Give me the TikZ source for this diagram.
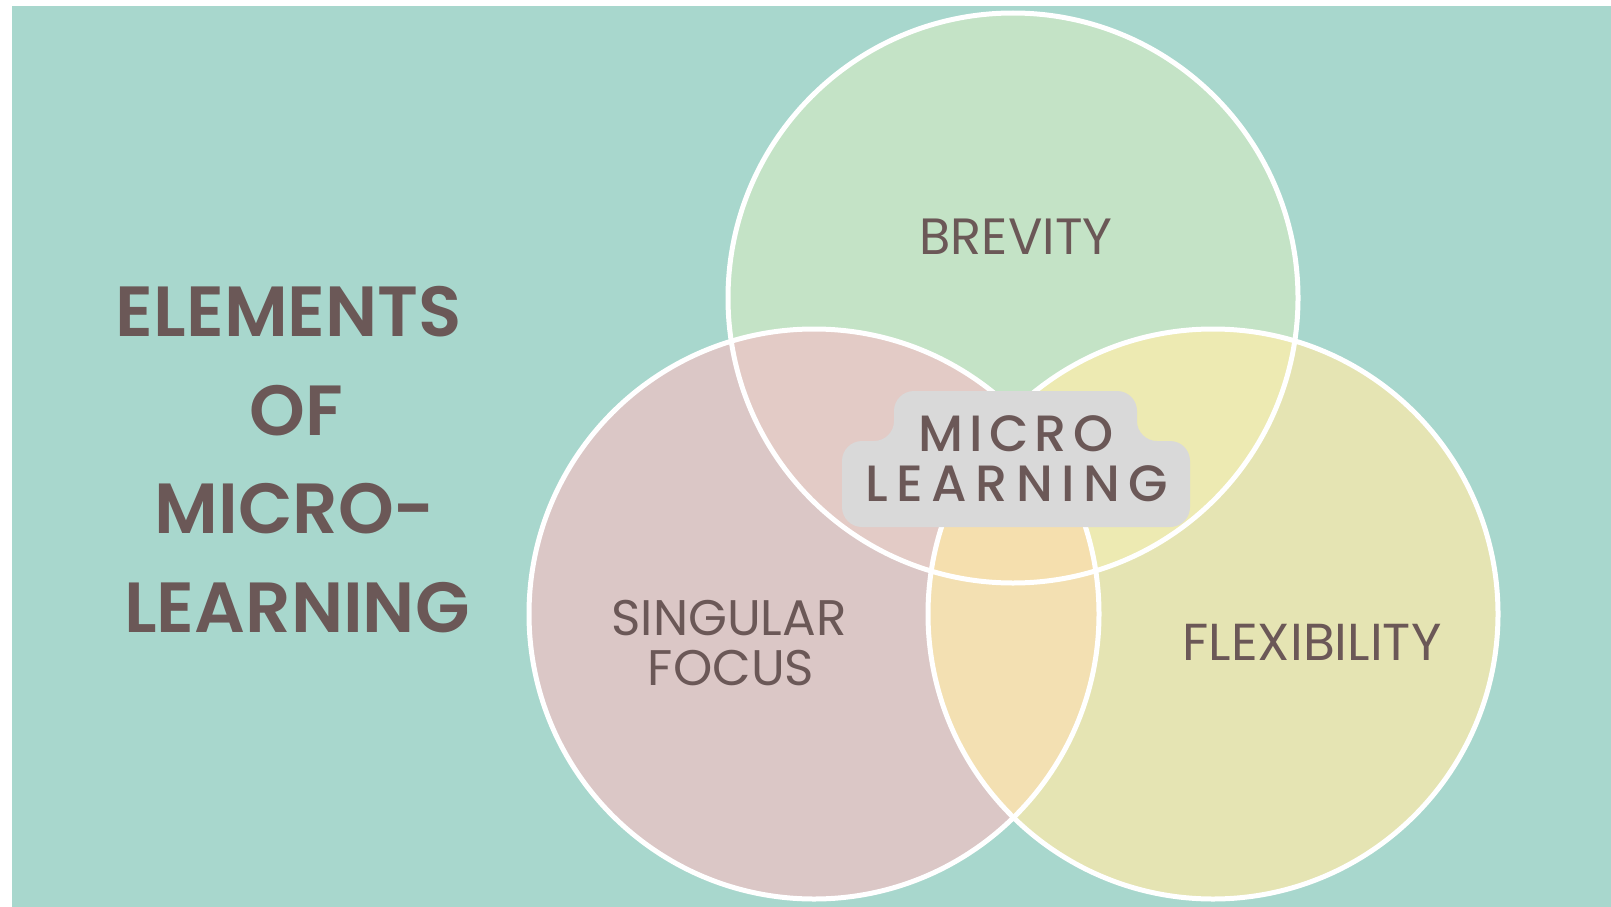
\documentclass[tikz,border=0pt]{standalone}
\usepackage{fontspec}
\setmainfont{Poppins}
\newfontfamily\popsemi{Poppins SemiBold}
\newfontfamily\popmed{Poppins Medium}[LetterSpace=12]
\newfontfamily\popmedwide{Poppins Medium}[LetterSpace=16.5]
\definecolor{bgteal}{HTML}{A8D7CD}
\definecolor{ctop}{HTML}{C4E3C6}
\definecolor{cleft}{HTML}{DBC7C6}
\definecolor{cright}{HTML}{E5E4B3}
\definecolor{ctl}{HTML}{E3CBC6}
\definecolor{ctr}{HTML}{EDEAB2}
\definecolor{clr}{HTML}{F3E0B2}
\definecolor{cmid}{HTML}{F5DFAE}
\definecolor{boxgray}{HTML}{D9D9D9}
\definecolor{txt}{HTML}{6B5857}
\tikzset{
  ring/.style={draw=white,line width=5pt},
  titletext/.style={inner sep=0pt,anchor=base,text=txt,font=\popsemi\fontsize{71}{98}\selectfont},
  circtext/.style={inner sep=0pt,anchor=base,text=txt,font=\fontsize{50}{50}\selectfont},
  midtext/.style={inner sep=0pt,anchor=base,text=txt,font=\popmed\fontsize{51}{50}\selectfont},
  midbox/.style={fill=boxgray,rounded corners=20pt}
}
\begin{document}
\begin{tikzpicture}[x=1pt,y=-1pt]
\useasboundingbox (0,0) rectangle (1611,907);
\fill[white] (0,0) rectangle (1611,907);
\fill[bgteal] (12,6) rectangle (1611,907);
% circle centres
\coordinate (T) at (1013,298);
\coordinate (L) at (814,614);
\coordinate (R) at (1213,614);
% fills
\fill[ctop] (T) circle[radius=285];
\fill[cleft] (L) circle[radius=285];
\fill[cright] (R) circle[radius=285];
\begin{scope}\clip (T) circle[radius=285]; \fill[ctl] (L) circle[radius=285];\end{scope}
\begin{scope}\clip (T) circle[radius=285]; \fill[ctr] (R) circle[radius=285];\end{scope}
\begin{scope}\clip (L) circle[radius=285]; \fill[clr] (R) circle[radius=285];\end{scope}
\begin{scope}\clip (T) circle[radius=285]; \clip (L) circle[radius=285]; \fill[cmid] (R) circle[radius=285];\end{scope}
% outlines
\draw[ring] (T) circle[radius=285];
\draw[ring] (L) circle[radius=285];
\draw[ring] (R) circle[radius=285];
% centre label box
\fill[midbox] (842,527) -- (842,441) -- (894,441) -- (894,391) -- (1137,391) -- (1137,441) -- (1190,441) -- (1190,527) -- cycle;
\node[midtext] (mid1) at (1016,451) {MICRO};
\node[midtext,font=\popmedwide\fontsize{51}{50}\selectfont] (mid2) at (1017,501) {LEARNING};
% circle labels
\node[circtext,font=\fontsize{51}{51}\selectfont] (brev) at (1016,254) {BREVITY};
\node[circtext] (sing1) at (729,635) {SINGULAR};
\node[circtext] (sing2) at (731,685) {FOCUS};
\node[circtext,font=\fontsize{52}{52}\selectfont] (flex) at (1312,660) {FLEXIBILITY};
% title
\node[titletext] (t1) at (289,336) {ELEMENTS};
\node[titletext] (t2) at (296,435) {OF};
\node[titletext] (t3) at (295,533) {MICRO-};
\node[titletext] (t4) at (297,632) {LEARNING};
\end{tikzpicture}
\end{document}
